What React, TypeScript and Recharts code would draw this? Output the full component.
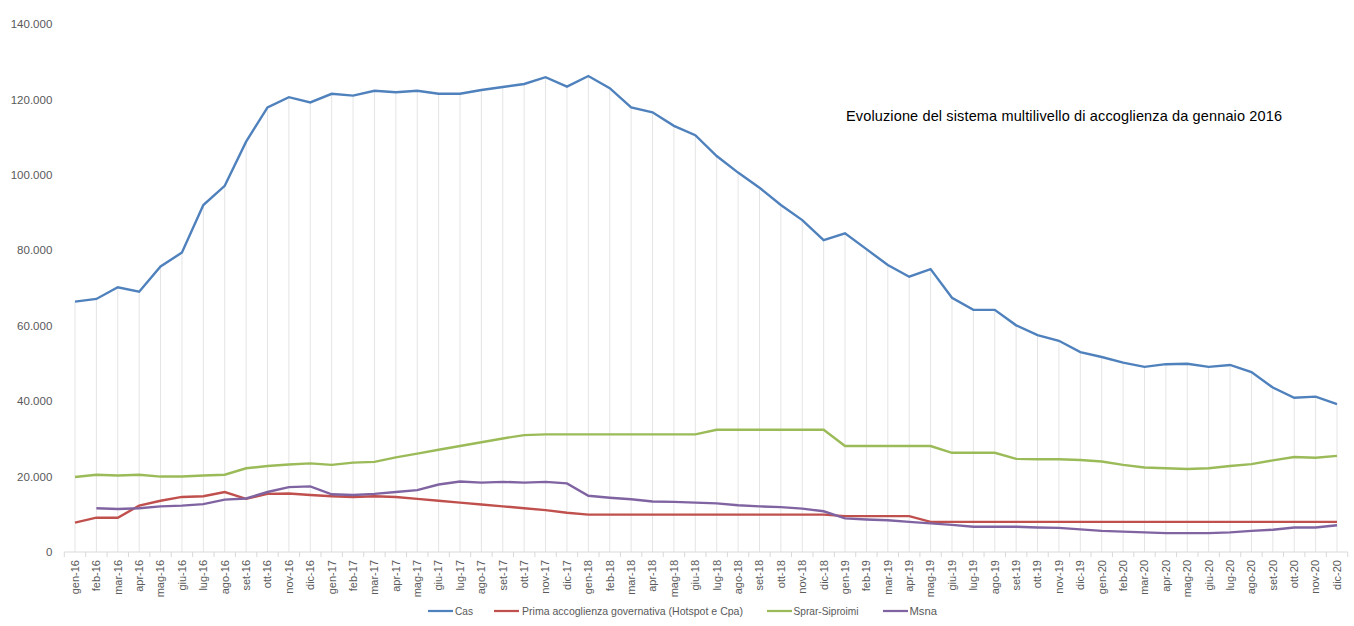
import React from 'react';
import { LineChart, Line, XAxis, YAxis, CartesianGrid, ReferenceLine, Legend } from 'recharts';

// Month labels (Italian) and years covered by the series
const MONTHS = ['gen', 'feb', 'mar', 'apr', 'mag', 'giu', 'lug', 'ago', 'set', 'ott', 'nov', 'dic'];
const YEARS = ['16', '17', '18', '19', '20'];
const categories = YEARS.flatMap((y) => MONTHS.map((m) => `${m}-${y}`));

// Persone accolte per tipologia di struttura
const cas = [
  66400, 67100, 70200, 69000, 75700, 79400, 92000, 97100, 108800, 117900, 120600, 119200,
  121500, 121000, 122300, 121900, 122300, 121500, 121500, 122500, 123300, 124100, 125900, 123400,
  126200, 123000, 117900, 116600, 113000, 110500, 105000, 100600, 96600, 92000, 88000, 82700,
  84500, 80300, 76100, 73000, 75000, 67400, 64200, 64200, 60100, 57500, 56000, 53000,
  51700, 50200, 49100, 49800, 49900, 49100, 49600, 47700, 43600, 40900, 41200, 39200,
];
const primaAccoglienza = [
  7800, 9100, 9100, 12300, 13600, 14600, 14800, 15900, 14100, 15400, 15500, 15100,
  14800, 14600, 14800, 14600, 14100, 13600, 13100, 12600, 12100, 11600, 11100, 10400,
  9900, 9900, 9900, 9900, 9900, 9900, 9900, 9900, 9900, 9900, 9900, 9900,
  9500, 9500, 9500, 9500, 8000, 8000, 8000, 8000, 8000, 8000, 8000, 8000,
  8000, 8000, 8000, 8000, 8000, 8000, 8000, 8000, 8000, 8000, 8000, 8000,
];
const sprarSiproimi = [
  19900, 20500, 20300, 20500, 20000, 20000, 20300, 20500, 22200, 22800, 23200, 23500,
  23100, 23700, 23900, 25100, 26100, 27100, 28100, 29100, 30100, 31000, 31200, 31200,
  31200, 31200, 31200, 31200, 31200, 31200, 32400, 32400, 32400, 32400, 32400, 32400,
  28100, 28100, 28100, 28100, 28100, 26300, 26300, 26300, 24700, 24600, 24600, 24400,
  24000, 23100, 22400, 22200, 22000, 22200, 22800, 23300, 24300, 25200, 25000, 25500,
];
const msna = [
  null, 11600, 11400, 11600, 12100, 12300, 12700, 13900, 14200, 15900, 17200, 17400,
  15300, 15100, 15400, 15900, 16400, 17900, 18700, 18400, 18600, 18400, 18600, 18200,
  14900, 14400, 14000, 13400, 13300, 13100, 12900, 12400, 12100, 11900, 11500, 10800,
  8900, 8600, 8400, 8000, 7600, 7200, 6700, 6700, 6700, 6500, 6400, 6000,
  5600, 5400, 5200, 5000, 5000, 5000, 5200, 5600, 5900, 6500, 6500, 7100,
];

const yTicks = [0, 20000, 40000, 60000, 80000, 100000, 120000, 140000];

const TITLE = 'Evoluzione del sistema multilivello di accoglienza da gennaio 2016';

const series = [
  { key: 'cas', name: 'Cas', color: '#4F81BD' },
  { key: 'prima', name: 'Prima accoglienza governativa (Hotspot e Cpa)', color: '#C0504D' },
  { key: 'sprar', name: 'Sprar-Siproimi', color: '#9BBB59' },
  { key: 'msna', name: 'Msna', color: '#8064A2' },
];

const data = categories.map((mese, i) => ({
  mese,
  cas: cas[i],
  prima: primaAccoglienza[i],
  sprar: sprarSiproimi[i],
  msna: msna[i],
}));

// Layout
const W = 1354;
const H = 626;
const MARGIN = { top: 24, right: 6.3, left: 0, bottom: 0 };
const Y_AXIS_W = 64.3;
const LEGEND_H = 24;
const PLOT_BOTTOM = 552;
const X_AXIS_H = H - LEGEND_H - PLOT_BOTTOM;
const PLOT_W = W - MARGIN.right - Y_AXIS_W;
const HALF_BAND = PLOT_W / categories.length / 2;

const FONT = '"Liberation Sans", Arial, sans-serif';
const AXIS_TEXT = '#595959';
const LIGHT = '#d9d9d9';
const DROP = '#e4e4e4';

const fmt = (v: number) => String(v).replace(/\B(?=(\d{3})+(?!\d))/g, '.');

const XTick = (props: any) => {
  const { x, y, payload, index } = props;
  const last = index === categories.length - 1;
  return (
    <g>
      <line x1={x - HALF_BAND} x2={x - HALF_BAND} y1={PLOT_BOTTOM} y2={PLOT_BOTTOM + 5} stroke={LIGHT} />
      {last && (
        <line x1={x + HALF_BAND} x2={x + HALF_BAND} y1={PLOT_BOTTOM} y2={PLOT_BOTTOM + 5} stroke={LIGHT} />
      )}
      <text
        transform={`translate(${x},${y}) rotate(-90)`}
        textAnchor="end"
        dy="0.35em"
        fontSize={11}
        fontFamily={FONT}
        fill={AXIS_TEXT}
      >
        {payload.value}
      </text>
    </g>
  );
};

// Legend item placement along the bottom row
const LEGEND_ITEMS = [
  { lineX: 428, textX: 455, len: 18 },
  { lineX: 494, textX: 522, len: 221 },
  { lineX: 767, textX: 793.5, len: 65 },
  { lineX: 883, textX: 909.5, len: 27.5 },
];

const LegendContent = () => (
  <svg width={W} height={LEGEND_H} style={{ display: 'block' }}>
    {series.map((s, i) => {
      const p = LEGEND_ITEMS[i];
      return (
        <g key={s.key}>
          <line x1={p.lineX} x2={p.lineX + 25} y1={9} y2={9} stroke={s.color} strokeWidth={2.25} />
          <text
            x={p.textX}
            y={9}
            dy="0.35em"
            fontSize={11}
            fontFamily={FONT}
            fill={AXIS_TEXT}
            textLength={p.len}
            lengthAdjust="spacingAndGlyphs"
          >
            {s.name}
          </text>
        </g>
      );
    })}
  </svg>
);

export default function App() {
  return (
    <div style={{ position: 'relative', width: W, height: H, background: '#fff' }}>
      <style>{'body{margin:0}'}</style>
      <LineChart width={W} height={H} data={data} margin={MARGIN}>
        <CartesianGrid horizontal={false} vertical={false} />
        {/* drop lines from the top series down to the axis */}
        {data.map((d) => (
          <ReferenceLine
            key={`drop-${d.mese}`}
            segment={[
              { x: d.mese, y: 0 },
              { x: d.mese, y: d.cas },
            ]}
            stroke={DROP}
            strokeWidth={1}
          />
        ))}
        <XAxis
          dataKey="mese"
          interval={0}
          height={X_AXIS_H}
          padding={{ left: HALF_BAND, right: HALF_BAND }}
          axisLine={{ stroke: LIGHT }}
          tickLine={false}
          tick={<XTick />}
        />
        <YAxis
          width={Y_AXIS_W}
          domain={[0, 140000]}
          ticks={yTicks}
          axisLine={false}
          tickLine={false}
          tickMargin={6}
          tickFormatter={fmt}
          tick={{ fontSize: 11.5, fontFamily: FONT, fill: AXIS_TEXT }}
        />
        {series.map((s) => (
          <Line
            key={s.key}
            type="linear"
            dataKey={s.key}
            name={s.name}
            stroke={s.color}
            strokeWidth={2.4}
            dot={false}
            activeDot={false}
            isAnimationActive={false}
          />
        ))}
        <Legend verticalAlign="bottom" height={LEGEND_H} content={<LegendContent />} />
      </LineChart>
      <svg
        width={W}
        height={H}
        style={{ position: 'absolute', left: 0, top: 0, pointerEvents: 'none' }}
      >
        <text
          x={846}
          y={116}
          dy="0.35em"
          fontSize={14.5}
          fontFamily={FONT}
          fill="#000"
          textLength={436}
          lengthAdjust="spacing"
        >
          {TITLE}
        </text>
      </svg>
    </div>
  );
}
